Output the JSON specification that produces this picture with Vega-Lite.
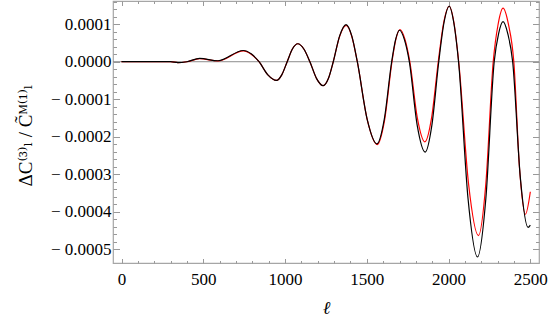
{
  "$schema": "https://vega.github.io/schema/vega-lite/v6.json",
  "width": 426,
  "height": 262,
  "autosize": "none",
  "padding": {"left": 113, "top": 1, "right": 11, "bottom": 55},
  "background": "white",
  "config": {
    "view": {"stroke": "#a6a6a6", "strokeWidth": 1.2},
    "axis": {
      "labelFont": "Liberation Serif, Times New Roman, DejaVu Serif, serif",
      "titleFont": "Liberation Serif, Times New Roman, DejaVu Serif, serif",
      "labelFontSize": 17,
      "labelColor": "black",
      "titleColor": "black",
      "titleFontWeight": "normal",
      "tickColor": "#999999",
      "tickWidth": 1,
      "domain": false,
      "grid": false
    }
  },
  "datasets": {
    "zero": [{"y": 0}],
    "curves": [
      {"l": 0, "v": 0, "s": "black"},
      {"l": 150, "v": 0.0000005, "s": "black"},
      {"l": 300, "v": 0, "s": "black"},
      {"l": 345, "v": -0.0000025, "s": "black"},
      {"l": 400, "v": 0, "s": "black"},
      {"l": 478, "v": 0.000009, "s": "black"},
      {"l": 590, "v": 0.0000026, "s": "black"},
      {"l": 745, "v": 0.00003, "s": "black"},
      {"l": 793, "v": 0.000021, "s": "black"},
      {"l": 841, "v": 0, "s": "black"},
      {"l": 895, "v": -0.000035, "s": "black"},
      {"l": 948, "v": -0.00005, "s": "black"},
      {"l": 980, "v": -0.000035, "s": "black"},
      {"l": 1013, "v": 0, "s": "black"},
      {"l": 1045, "v": 0.000034, "s": "black"},
      {"l": 1078, "v": 0.000048, "s": "black"},
      {"l": 1115, "v": 0.000034, "s": "black"},
      {"l": 1152, "v": 0, "s": "black"},
      {"l": 1193, "v": -0.000045, "s": "black"},
      {"l": 1234, "v": -0.000064, "s": "black"},
      {"l": 1265, "v": -0.000045, "s": "black"},
      {"l": 1295, "v": 0, "s": "black"},
      {"l": 1334, "v": 0.000069, "s": "black"},
      {"l": 1373, "v": 0.000099, "s": "black"},
      {"l": 1408, "v": 0.000069, "s": "black"},
      {"l": 1442, "v": 0, "s": "black"},
      {"l": 1502, "v": -0.000153, "s": "black"},
      {"l": 1562, "v": -0.000219, "s": "black"},
      {"l": 1607, "v": -0.000153, "s": "black"},
      {"l": 1652, "v": 0, "s": "black"},
      {"l": 1676, "v": 0.000059, "s": "black"},
      {"l": 1700, "v": 0.000084, "s": "black"},
      {"l": 1730, "v": 0.000059, "s": "black"},
      {"l": 1760, "v": 0, "s": "black"},
      {"l": 1808, "v": -0.000169, "s": "black"},
      {"l": 1857, "v": -0.000241, "s": "black"},
      {"l": 1898, "v": -0.000169, "s": "black"},
      {"l": 1940, "v": 0, "s": "black"},
      {"l": 1972, "v": 0.000104, "s": "black"},
      {"l": 2004, "v": 0.000148, "s": "black"},
      {"l": 2032, "v": 0.000104, "s": "black"},
      {"l": 2061, "v": 0, "s": "black"},
      {"l": 2119, "v": -0.000365, "s": "black"},
      {"l": 2177, "v": -0.000521, "s": "black"},
      {"l": 2228, "v": -0.000365, "s": "black"},
      {"l": 2279, "v": 0, "s": "black"},
      {"l": 2306, "v": 0.000075, "s": "black"},
      {"l": 2333, "v": 0.000107, "s": "black"},
      {"l": 2362, "v": 0.000075, "s": "black"},
      {"l": 2392, "v": 0, "s": "black"},
      {"l": 2439, "v": -0.00031, "s": "black"},
      {"l": 2486, "v": -0.000442, "s": "black"},
      {"l": 2500, "v": -0.000436, "s": "black"},
      {"l": 0, "v": 0, "s": "red"},
      {"l": 150, "v": 0.0000005, "s": "red"},
      {"l": 300, "v": 0, "s": "red"},
      {"l": 345, "v": -0.0000025, "s": "red"},
      {"l": 400, "v": 0, "s": "red"},
      {"l": 478, "v": 0.000008, "s": "red"},
      {"l": 590, "v": 0.000002, "s": "red"},
      {"l": 745, "v": 0.000029, "s": "red"},
      {"l": 793, "v": 0.00002, "s": "red"},
      {"l": 841, "v": 0, "s": "red"},
      {"l": 895, "v": -0.000035, "s": "red"},
      {"l": 948, "v": -0.00005, "s": "red"},
      {"l": 980, "v": -0.000035, "s": "red"},
      {"l": 1013, "v": 0, "s": "red"},
      {"l": 1045, "v": 0.000034, "s": "red"},
      {"l": 1078, "v": 0.000048, "s": "red"},
      {"l": 1115, "v": 0.000034, "s": "red"},
      {"l": 1152, "v": 0, "s": "red"},
      {"l": 1193, "v": -0.000045, "s": "red"},
      {"l": 1234, "v": -0.000064, "s": "red"},
      {"l": 1265, "v": -0.000045, "s": "red"},
      {"l": 1295, "v": 0, "s": "red"},
      {"l": 1334, "v": 0.000068, "s": "red"},
      {"l": 1374, "v": 0.000097, "s": "red"},
      {"l": 1408, "v": 0.000068, "s": "red"},
      {"l": 1442, "v": 0, "s": "red"},
      {"l": 1503, "v": -0.000155, "s": "red"},
      {"l": 1564, "v": -0.000221, "s": "red"},
      {"l": 1609, "v": -0.000155, "s": "red"},
      {"l": 1654, "v": 0, "s": "red"},
      {"l": 1678, "v": 0.00006, "s": "red"},
      {"l": 1703, "v": 0.000086, "s": "red"},
      {"l": 1733, "v": 0.00006, "s": "red"},
      {"l": 1763, "v": 0, "s": "red"},
      {"l": 1809, "v": -0.00015, "s": "red"},
      {"l": 1855, "v": -0.000214, "s": "red"},
      {"l": 1896, "v": -0.00015, "s": "red"},
      {"l": 1937, "v": 0, "s": "red"},
      {"l": 1970, "v": 0.000104, "s": "red"},
      {"l": 2004, "v": 0.000148, "s": "red"},
      {"l": 2033, "v": 0.000104, "s": "red"},
      {"l": 2062, "v": 0, "s": "red"},
      {"l": 2122, "v": -0.000325, "s": "red"},
      {"l": 2183, "v": -0.000464, "s": "red"},
      {"l": 2228, "v": -0.000325, "s": "red"},
      {"l": 2273, "v": 0, "s": "red"},
      {"l": 2303, "v": 0.0001, "s": "red"},
      {"l": 2333, "v": 0.000143, "s": "red"},
      {"l": 2366, "v": 0.0001, "s": "red"},
      {"l": 2399, "v": 0, "s": "red"},
      {"l": 2434, "v": -0.000285, "s": "red"},
      {"l": 2470, "v": -0.000407, "s": "red"},
      {"l": 2500, "v": -0.000347, "s": "red"}
    ]
  },
  "layer": [
    {
      "data": {"name": "zero"},
      "mark": {"type": "rule", "color": "#8c8c8c", "strokeWidth": 1},
      "encoding": {
        "y": {"field": "y", "type": "quantitative", "scale": {"domain": [-0.000537, 0.000162], "nice": false, "zero": false}, "axis": null}
      }
    },
    {
      "data": {"name": "curves"},
      "transform": [{"filter": "datum.s === 'red'"}],
      "mark": {"type": "line", "color": "#ff0000", "strokeWidth": 1.2, "interpolate": "monotone"},
      "encoding": {
        "x": {"field": "l", "type": "quantitative", "scale": {"domain": [-52, 2553], "nice": false, "zero": false},
          "axis": {"orient": "top", "title": null, "labels": false,
            "values": [0,100,200,300,400,500,600,700,800,900,1000,1100,1200,1300,1400,1500,1600,1700,1800,1900,2000,2100,2200,2300,2400,2500],
            "tickSize": {"condition": {"test": "datum.value % 500 === 0", "value": -4.5}, "value": -2.5}}},
        "y": {"field": "v", "type": "quantitative", "scale": {"domain": [-0.000537, 0.000162], "nice": false, "zero": false},
          "axis": {"orient": "right", "title": null, "labels": false,
            "values": [-0.0005,-0.00048,-0.00046,-0.00044,-0.00042,-0.0004,-0.00038,-0.00036,-0.00034,-0.00032,-0.0003,-0.00028,-0.00026,-0.00024,-0.00022,-0.0002,-0.00018,-0.00016,-0.00014,-0.00012,-0.0001,-0.00008,-0.00006,-0.00004,-0.00002,0,0.00002,0.00004,0.00006,0.00008,0.0001,0.00012,0.00014,0.00016],
            "tickSize": {"condition": {"test": "abs(datum.value*10000 - round(datum.value*10000)) < 0.001", "value": -6.5}, "value": -3.5}}}
      }
    },
    {
      "data": {"name": "curves"},
      "transform": [{"filter": "datum.s === 'black'"}],
      "mark": {"type": "line", "color": "#000000", "strokeWidth": 1.2, "interpolate": "monotone"},
      "encoding": {
        "x": {"field": "l", "type": "quantitative", "scale": {"domain": [-52, 2553], "nice": false, "zero": false},
          "axis": {"orient": "bottom", "title": "ℓ", "titleFontStyle": "italic", "titleFontSize": 18, "titleY": 45, "titleBaseline": "middle",
            "labelBaseline": "alphabetic", "labelPadding": 26,
            "values": [0,100,200,300,400,500,600,700,800,900,1000,1100,1200,1300,1400,1500,1600,1700,1800,1900,2000,2100,2200,2300,2400,2500],
            "labelExpr": "datum.value % 500 === 0 ? format(datum.value, 'd') : ''",
            "tickSize": {"condition": {"test": "datum.value % 500 === 0", "value": -4.5}, "value": -2.5}}},
        "y": {"field": "v", "type": "quantitative", "scale": {"domain": [-0.000537, 0.000162], "nice": false, "zero": false},
          "axis": {"orient": "left", "title": "ΔC⁽³⁾ₗ / C̃ᴹ⁽¹⁾ₗ", "titleFontSize": 19, "titleX": -88, "titleY": 134, "titleAngle": -90, "titleAlign": "center", "titleBaseline": "middle",
            "labelPadding": 8.5,
            "values": [-0.0005,-0.00048,-0.00046,-0.00044,-0.00042,-0.0004,-0.00038,-0.00036,-0.00034,-0.00032,-0.0003,-0.00028,-0.00026,-0.00024,-0.00022,-0.0002,-0.00018,-0.00016,-0.00014,-0.00012,-0.0001,-0.00008,-0.00006,-0.00004,-0.00002,0,0.00002,0.00004,0.00006,0.00008,0.0001,0.00012,0.00014,0.00016],
            "labelExpr": "abs(datum.value*10000 - round(datum.value*10000)) < 0.001 ? (datum.value < -0.000000001 ? '− ' + format(-datum.value, '.4f') : format(abs(datum.value), '.4f')) : ''",
            "tickSize": {"condition": {"test": "abs(datum.value*10000 - round(datum.value*10000)) < 0.001", "value": -6.5}, "value": -3.5}}}
      }
    }
  ],
  "resolve": {"axis": {"x": "independent", "y": "independent"}}
}
